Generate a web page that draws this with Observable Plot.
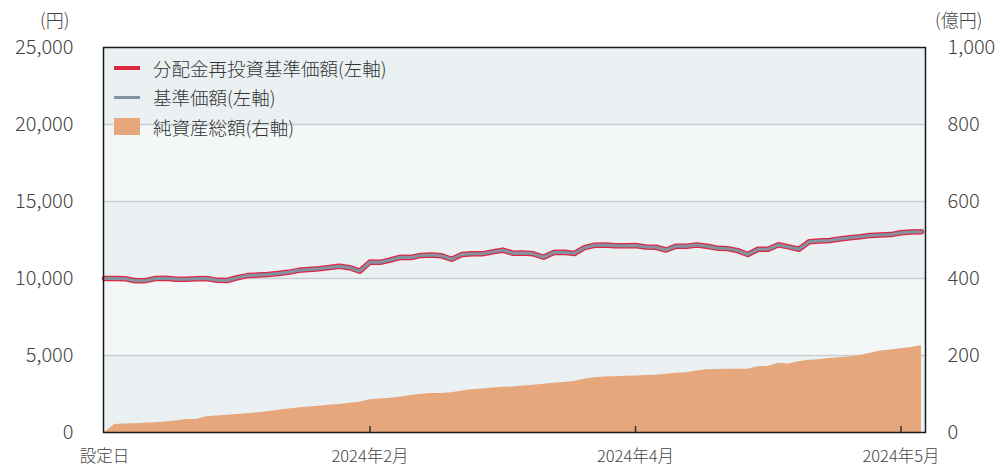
<!DOCTYPE html>
<html><head><meta charset="utf-8">
<script src="https://cdn.jsdelivr.net/npm/d3@7"></script>
<script src="https://cdn.jsdelivr.net/npm/@observablehq/plot@0.6"></script>
<style>
body{margin:0;background:#fff;font-family:"Noto Sans CJK JP","Noto Sans",sans-serif;}
#wrap{position:relative;width:1000px;height:469px;}
.unit{position:absolute;top:6px;font-size:18px;color:#444;line-height:26px;font-weight:300;}
#legend{position:absolute;left:114px;top:53px;font-size:18.5px;color:#333;font-weight:300;}
.row{height:29.5px;display:flex;align-items:center;white-space:nowrap;}
.sw{width:26px;margin-right:13px;flex:none;}
svg text{font-weight:300;}
</style></head><body>
<div id="wrap">
  <div class="unit" style="left:40px">(円)</div>
  <div class="unit" style="left:935px">(億円)</div>
  <div id="legend"></div>
</div>
<script>
// 基準価額（円）— data points from 設定日 onward
const nav = [10000,10000,9990,9850,9860,10000,10020,9950,9950,9990,
  10000,9880,9870,10050,10190,10220,10260,10330,10400,10530,
  10590,10640,10710,10800,10700,10480,11070,11050,11200,11380,
  11360,11500,11520,11470,11250,11560,11610,11600,11730,11840,
  11640,11650,11600,11380,11690,11700,11620,12000,12160,12170,
  12120,12130,12140,12040,12030,11850,12100,12100,12170,12090,
  11970,11940,11810,11560,11900,11900,12190,12050,11900,12380,
  12430,12470,12560,12650,12710,12800,12820,12850,12970,13020,13040];
// 分配金再投資基準価額（円）— no distributions, identical to 基準価額
const navReinvested = [10000,10000,9990,9850,9860,10000,10020,9950,9950,9990,
  10000,9880,9870,10050,10190,10220,10260,10330,10400,10530,
  10590,10640,10710,10800,10700,10480,11070,11050,11200,11380,
  11360,11500,11520,11470,11250,11560,11610,11600,11730,11840,
  11640,11650,11600,11380,11690,11700,11620,12000,12160,12170,
  12120,12130,12140,12040,12030,11850,12100,12100,12170,12090,
  11970,11940,11810,11560,11900,11900,12190,12050,11900,12380,
  12430,12470,12560,12650,12710,12800,12820,12850,12970,13020,13040];
// 純資産総額（億円）
const netAssets = [0,21,22,22.5,24,25.5,27,30,33.5,34,
  41,43,45,47,49,51.5,54,58,61,63.5,
  66,68,70.5,73,76,78.5,85,87,89,92,
  96,99.5,101,101.5,103,108,111,113,115.5,117.5,
  118.5,121,123,125.5,128,130,132.5,138,142,144,
  145,146,147,148,149,151,154,155.5,160,163,
  163.5,164,164.5,164,170.5,171.5,180,178,184,187.5,
  189,192,194,197,200,206,211.5,214,217.5,221,226];

const xTickIndex = [0, 26, 52, 78];
const xTickLabels = ["設定日", "2024年2月", "2024年4月", "2024年5月"];
const yTicksLeft = [0, 5000, 10000, 15000, 20000, 25000];
const yTicksRight = [0, 200, 400, 600, 800, 1000];
const seriesNames = ["分配金再投資基準価額(左軸)", "基準価額(左軸)", "純資産総額(右軸)"];

const RED = "#dc2840", GRAY = "#8393a3", ORANGE = "#e6a77c";
const ratio = yTicksLeft[yTicksLeft.length-1] / yTicksRight[yTicksRight.length-1];

const data = nav.map((v, i) => ({i, nav: v, re: navReinvested[i], assets: netAssets[i] * ratio}));
const bands = yTicksLeft.slice(0, -1).map((v, k) => ({y1: v, y2: yTicksLeft[k+1], dark: k % 2 === 0}));
const fmt = d3.format(",");

const chart = Plot.plot({
  width: 1000, height: 469,
  marginLeft: 103, marginRight: 75, marginTop: 47, marginBottom: 37,
  style: {fontFamily: '"Noto Sans CJK JP","Noto Sans",sans-serif', background: "transparent", color: "#444"},
  x: {domain: [-0.1, 80.4]},
  y: {domain: [0, 25000]},
  marks: [
    Plot.rect(bands, {y1: "y1", y2: "y2", fill: d => d.dark ? "#ebf0f3" : "#f4f7f8"}),
    Plot.ruleY(yTicksLeft.slice(1, -1), {stroke: "#c8cdd1", strokeWidth: 1.3}),
    Plot.areaY(data, {x: "i", y: "assets", fill: ORANGE}),
    Plot.line(data, {x: "i", y: "re", stroke: RED, strokeWidth: 5.5}),
    Plot.line(data, {x: "i", y: "nav", stroke: GRAY, strokeWidth: 3}),
    Plot.tickX(xTickIndex.slice(1), {stroke: "#333", strokeWidth: 1.5, insetTop: 379}),
    Plot.frame({stroke: "#1a1a1a", strokeWidth: 1.5}),
    Plot.axisY({ticks: yTicksLeft, tickSize: 0, tickPadding: 30, fontSize: 20, label: null, tickFormat: fmt}),
    Plot.axisY({anchor: "right", ticks: yTicksLeft, tickSize: 0, tickPadding: 22, fontSize: 20, label: null,
      tickFormat: d => fmt(d / ratio)}),
    Plot.axisX({ticks: xTickIndex, tickSize: 0, tickPadding: 18, fontSize: 16.5, label: null,
      tickFormat: d => xTickLabels[xTickIndex.indexOf(d)]})
  ]
});
chart.style.position = "absolute";
chart.style.left = "0"; chart.style.top = "0";
const wrap = document.getElementById("wrap");
wrap.insertBefore(chart, wrap.firstChild);

const legend = document.getElementById("legend");
const swatches = [
  `<div class="sw" style="height:4.5px;background:${RED}"></div>`,
  `<div class="sw" style="height:2.8px;background:${GRAY}"></div>`,
  `<div class="sw" style="height:17px;background:${ORANGE}"></div>`
];
legend.innerHTML = seriesNames.map((n, k) => `<div class="row">${swatches[k]}<span>${n}</span></div>`).join("");
</script>
</body></html>
